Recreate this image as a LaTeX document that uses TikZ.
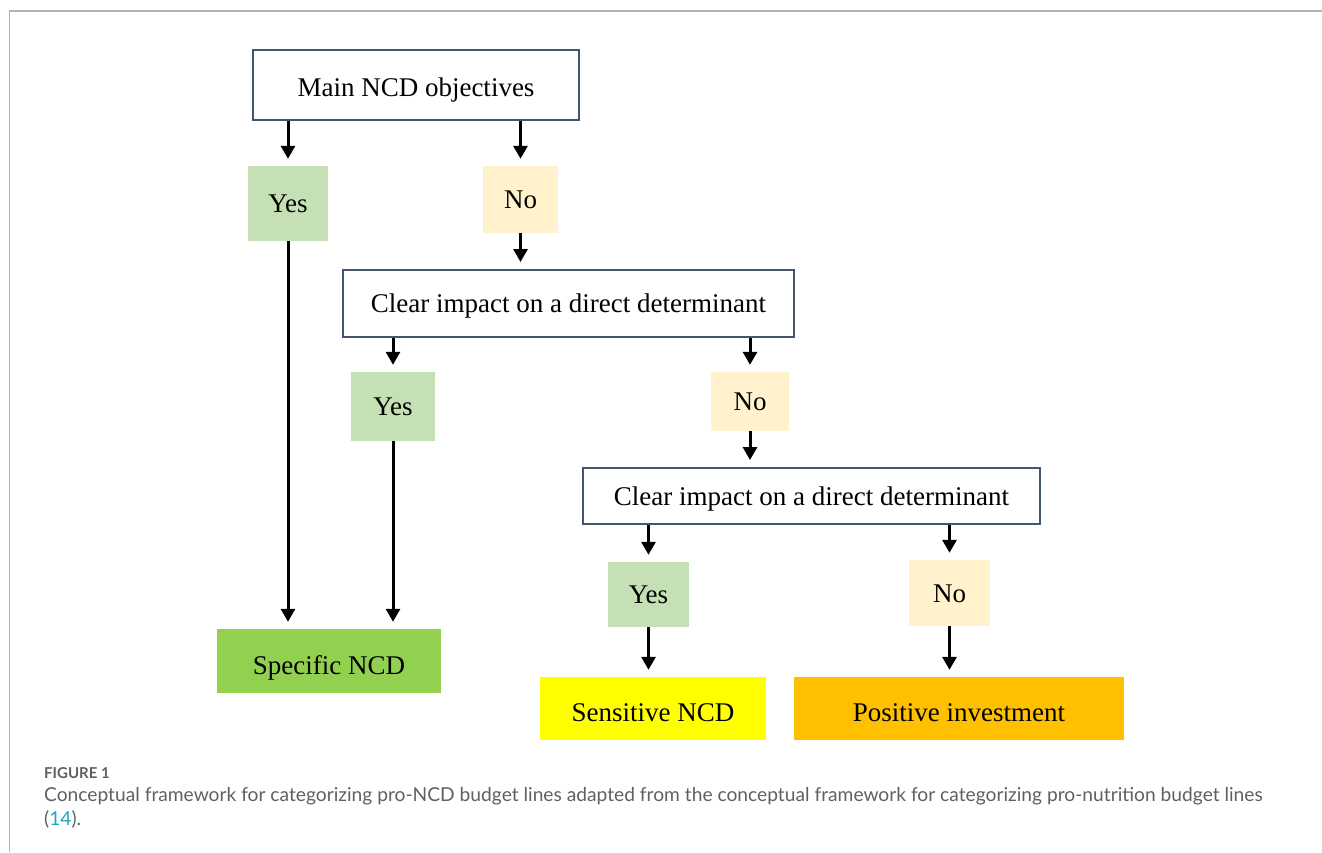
\documentclass[tikz,border=0pt]{standalone}
\usepackage{fontspec}
\setmainfont{Liberation Serif}
\newfontfamily\capfont{Lato}
\usetikzlibrary{arrows.meta}
\definecolor{boxblue}{HTML}{45546F}
\definecolor{yesgreen}{HTML}{C5E0B4}
\definecolor{nocream}{HTML}{FFF2CC}
\definecolor{specgreen}{HTML}{92D050}
\definecolor{sensyellow}{HTML}{FFFF00}
\definecolor{posorange}{HTML}{FFC000}
\definecolor{framegray}{HTML}{B4B4B4}
\definecolor{capgray}{HTML}{5F6062}
\definecolor{linkteal}{HTML}{1EA8B9}
\begin{document}
\begin{tikzpicture}[x=1pt,y=-1pt,
  txt/.style={font=\fontsize{27}{30}\selectfont, text=black, inner sep=0pt, text height=18pt, text depth=0pt},
  qbox/.style={txt, draw=boxblue, line width=2pt, fill=white},
  yesbox/.style={txt, fill=yesgreen},
  nobox/.style={txt, fill=nocream},
  endbox/.style={txt, text height=26pt},
  arr/.style={line width=3pt, -{Triangle[width=14pt,length=13pt]}, shorten >=7pt}
]
\useasboundingbox (0,0) rectangle (1322,852);
% frame
\draw[framegray, line width=1.5pt] (9.5,852) -- (9.5,11) -- (1322,11);

% nodes
\node[qbox, text height=22pt, minimum width=326pt, minimum height=70pt] (main) at (416,85) {Main NCD objectives};
\node[yesbox, minimum width=80pt, minimum height=75pt] (yes1) at (288,203.5) {Yes};
\node[nobox, minimum width=75pt, minimum height=67pt] (no1) at (520.5,199.5) {No};
\node[qbox, minimum width=451pt, minimum height=67pt] (q2) at (568.5,303.5) {Clear impact on a direct determinant};
\node[yesbox, minimum width=84pt, minimum height=69pt] (yes2) at (393,406.5) {Yes};
\node[nobox, minimum width=78pt, minimum height=59pt] (no2) at (750,401.5) {No};
\node[qbox, minimum width=457pt, minimum height=56pt] (q3) at (811.5,496) {Clear impact on a direct determinant};
\node[yesbox, minimum width=81pt, minimum height=65pt] (yes3) at (648.5,594.5) {Yes};
\node[nobox, minimum width=81pt, minimum height=66pt] (no3) at (949.5,593) {No};
\node[endbox, fill=specgreen, minimum width=224pt, minimum height=64pt] (spec) at (329,661) {Specific NCD};
\node[endbox, fill=sensyellow, minimum width=226pt, minimum height=63pt] (sens) at (653,708.5) {Sensitive NCD};
\node[endbox, fill=posorange, minimum width=330pt, minimum height=63pt] (pos) at (959,708.5) {Positive investment};

% connectors
\draw[arr] (main.south -| yes1) -- (yes1.north);
\draw[arr] (main.south -| no1) -- (no1.north);
\draw[arr] (no1.south) -- (no1.south |- q2.north);
\draw[arr] (yes1.south) -- (yes1.south |- spec.north);
\draw[arr] (q2.south -| yes2) -- (yes2.north);
\draw[arr] (q2.south -| no2) -- (no2.north);
\draw[arr] (yes2.south) -- (yes2.south |- spec.north);
\draw[arr] (no2.south) -- (no2.south |- q3.north);
\draw[arr] (q3.south -| yes3) -- (yes3.north);
\draw[arr] (q3.south -| no3) -- (no3.north);
\draw[arr] (yes3.south) -- (yes3.south |- sens.north);
\draw[arr] (no3.south) -- (no3.south |- pos.north);

% caption
\node[anchor=base west, inner sep=0pt, text=capgray, font=\capfont\fontsize{15}{18}\selectfont\bfseries] (figlab) at (44,778) {FIGURE 1};
\node[anchor=base west, inner sep=0pt, text=capgray, font=\capfont\fontsize{19.2}{22}\selectfont] (cap1) at (44,801) {Conceptual framework for categorizing pro-NCD budget lines adapted from the conceptual framework for categorizing pro-nutrition budget lines};
\node[anchor=base west, inner sep=0pt, text=capgray, font=\capfont\fontsize{19.2}{22}\selectfont] (cap2) at (44,825) {(\textcolor{linkteal}{14}).};
\end{tikzpicture}
\end{document}
